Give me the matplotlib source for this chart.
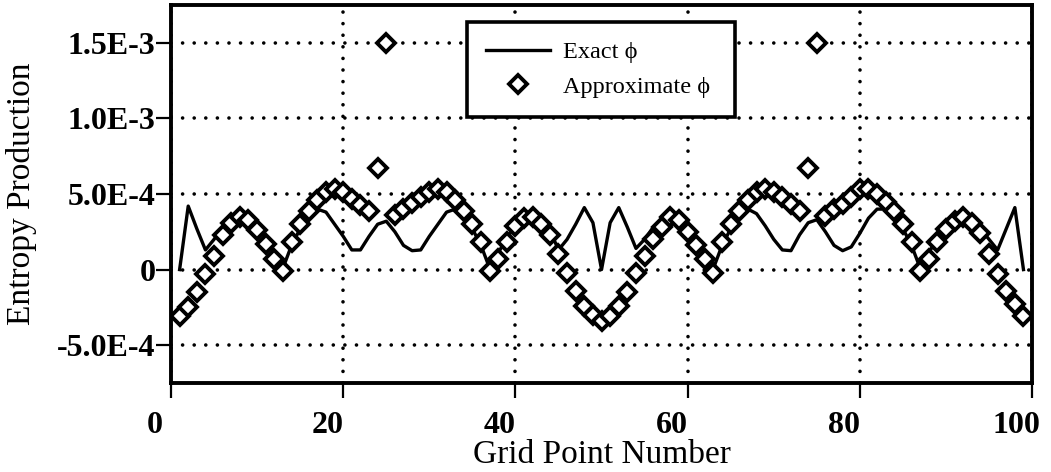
import numpy as np
import matplotlib
matplotlib.use("Agg")
import matplotlib.pyplot as plt
from matplotlib.transforms import ScaledTranslation

plt.rcParams['font.family'] = ['Liberation Serif', 'DejaVu Serif']
plt.rcParams['lines.dash_capstyle'] = 'round'

grid_points = np.arange(1, 100)

# entropy production, units of 1e-4
exact_phi = np.array([
    0.0, 4.2, 2.7, 1.3, 2.0, 2.8, 3.3, 3.5, 3.4, 2.9,
    2.1, 1.1, 0.1, 1.6, 2.7, 3.5, 4.0, 3.8, 3.0, 2.2,
    1.3, 1.3, 2.2, 3.0, 3.2, 2.5, 1.6, 1.25, 1.3, 2.2,
    3.0, 3.8, 4.0, 3.5, 2.7, 1.6, 0.1, 1.1, 2.1, 2.9,
    3.4, 3.5, 3.3, 2.6, 1.3, 2.0, 3.0, 4.1, 3.1, 0.0,
    3.1, 4.1, 2.8, 1.4, 2.0, 2.8, 3.3, 3.5, 3.4, 2.9,
    2.1, 1.1, 0.1, 1.6, 2.7, 3.5, 4.0, 3.7, 2.9, 2.0,
    1.3, 1.25, 2.3, 3.1, 3.3, 2.5, 1.6, 1.25, 1.5, 2.4,
    3.4, 4.0, 4.0, 3.5, 2.7, 1.6, 0.1, 1.1, 2.1, 2.9,
    3.4, 3.5, 3.3, 2.7, 2.0, 1.3, 2.7, 4.1, 0.0]) * 1e-4

approx_phi = np.array([
    -3.1, -2.5, -1.5, -0.3, 0.9, 2.3, 3.1, 3.5, 3.3, 2.6,
    1.7, 0.7, -0.1, 1.8, 3.0, 3.9, 4.6, 5.1, 5.3, 5.1,
    4.7, 4.3, 3.9, 6.7, 15.0, 3.6, 4.0, 4.4, 4.8, 5.1,
    5.35, 5.1, 4.6, 3.9, 3.0, 1.8, -0.1, 0.7, 1.8, 2.9,
    3.4, 3.5, 3.0, 2.3, 1.0, -0.2, -1.4, -2.4, -3.0, -3.4,
    -3.05, -2.4, -1.45, -0.25, 0.9, 2.0, 2.8, 3.5, 3.3, 2.5,
    1.6, 0.7, -0.2, 1.8, 3.0, 3.9, 4.6, 5.1, 5.3, 5.1,
    4.8, 4.35, 3.9, 6.7, 15.0, 3.55, 4.0, 4.35, 4.8, 5.3,
    5.3, 5.0, 4.5, 3.9, 3.0, 1.8, -0.1, 0.7, 1.8, 2.7,
    3.2, 3.5, 3.1, 2.4, 1.0, -0.3, -1.4, -2.3, -3.1]) * 1e-4

x_ticks = [0, 20, 40, 60, 80, 100]
y_ticks = [-5e-4, 0, 5e-4, 1e-3, 1.5e-3]
y_tick_labels = ['-5.0E-4', '0', '5.0E-4', '1.0E-3', '1.5E-3']

fig = plt.figure(figsize=(10.51, 4.72), dpi=100)
ax = fig.add_axes([0.1627, 0.1886, 0.8193, 0.8008])

ax.plot(grid_points, exact_phi, color='black', lw=2.4, label='Exact \u03d5', zorder=3)
ax.plot(grid_points, approx_phi, ls='none', marker='D', ms=9.4, mew=2.8,
        mfc='white', mec='black', label='Approximate \u03d5', zorder=4)

ax.set_xlim(0, 100)
ax.set_ylim(-7.5e-4, 1.75e-3)
ax.set_xticks(x_ticks)
ax.set_yticks(y_ticks)
ax.set_yticklabels(y_tick_labels)
ax.tick_params(direction='out', length=11, width=1.6, labelsize=23, color='black')
ax.tick_params(axis='y', pad=0)
ax.tick_params(axis='x', pad=9)
for lbl in ax.get_xticklabels() + ax.get_yticklabels():
    lbl.set_fontweight('bold')
for lbl in ax.get_xticklabels():
    lbl.set_transform(lbl.get_transform() + ScaledTranslation(-0.16, 0, fig.dpi_scale_trans))

ax.grid(True, color='black', linestyle=(0, (0.01, 3.2)), linewidth=2.6)
ax.set_axisbelow(True)
for sp in ax.spines.values():
    sp.set_linewidth(2.8)

ax.set_xlabel('Grid Point Number', fontsize=24)
ax.xaxis.set_label_coords(0.5, -0.15)
ax.set_ylabel('Entropy Production', fontsize=24)
ax.yaxis.set_label_coords(-0.156, 0.5)

leg = ax.legend(loc='upper left', bbox_to_anchor=(0.3438, 0.955, 0.311, 0.0),
                mode='expand', fontsize=17.5, numpoints=1, fancybox=False,
                framealpha=1, edgecolor='black', borderpad=0.8,
                handlelength=2.6, handletextpad=0.55, labelspacing=0.5,
                borderaxespad=0)
leg.get_frame().set_linewidth(2.6)

fig.savefig('out.png', dpi=100)
